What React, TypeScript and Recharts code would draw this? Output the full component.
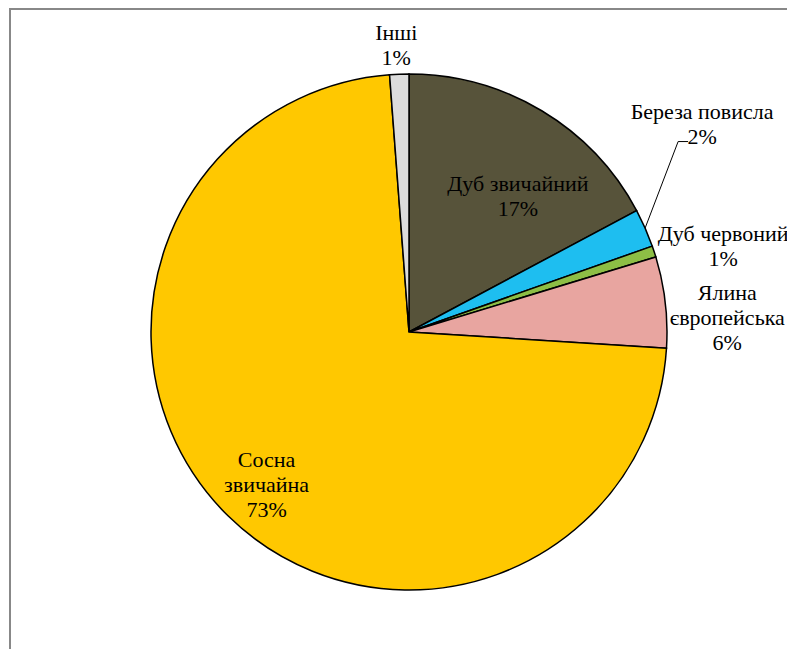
import React from "react";
import { PieChart, Pie, Cell } from "recharts";

const names = ["Дуб звичайний", "Береза повисла", "Дуб червоний", "Ялина європейська", "Сосна звичайна", "Інші"];
const values = [17.2, 2.4, 0.7, 5.7, 72.8, 1.2];
const percentLabels = ["17%", "2%", "1%", "6%", "73%", "1%"];
const labelLines: string[][] = [
  ["Дуб звичайний"],
  ["Береза повисла"],
  ["Дуб червоний"],
  ["Ялина", "європейська"],
  ["Сосна", "звичайна"],
  ["Інші"],
];
const colors = ["#57533A", "#1EBEF0", "#8DBE45", "#E8A5A0", "#FFC800", "#DCDCDC"];

// label layout: radius factor along midAngle plus pixel offsets
const labelLayout = [
  { f: 0.67, dx: 20, dy: 12 },
  { f: 1.0, dx: 57, dy: -104 },
  { f: 1.0, dx: 69, dy: -6 },
  { f: 1.0, dx: 62, dy: 15 },
  { f: 0.78, dx: -1, dy: 9 },
  { f: 1.0, dx: -3, dy: -29 },
];

const data = names.map((n, i) => ({ name: n, value: values[i] }));

const RAD = Math.PI / 180;
const FONT = 22;
const LH = 25;
const SERIF = "Liberation Serif";

const renderLabel = (props: any) => {
  const { cx, cy, midAngle, outerRadius, index } = props;
  const lay = labelLayout[index];
  const r = outerRadius * lay.f;
  const x = cx + r * Math.cos(-midAngle * RAD) + lay.dx;
  const y = cy + r * Math.sin(-midAngle * RAD) + lay.dy;
  const lines = [...labelLines[index], percentLabels[index]];
  const top = y - ((lines.length - 1) * LH) / 2;
  const els: any[] = [];
  if (index === 1) {
    const ex = cx + outerRadius * Math.cos(-midAngle * RAD);
    const ey = cy + outerRadius * Math.sin(-midAngle * RAD);
    const jy = top + LH + 5;
    els.push(
      <polyline
        key="ll"
        points={`${ex},${ey} ${x - 24},${jy} ${x - 14},${jy}`}
        fill="none"
        stroke="#000"
        strokeWidth={1}
      />
    );
  }
  lines.forEach((t, k) => {
    els.push(
      <text
        key={k}
        x={x}
        y={top + k * LH}
        textAnchor="middle"
        dominantBaseline="central"
        fontFamily={SERIF}
        fontSize={FONT}
        fill="#000"
      >
        {t}
      </text>
    );
  });
  return <g key={`lbl-${index}`}>{els}</g>;
};

export default function App() {
  return (
    <div style={{ position: "relative", width: 787, height: 641, overflow: "hidden", fontFamily: SERIF }}>
      <div
        style={{
          position: "absolute",
          left: 1,
          top: 0,
          width: 800,
          height: 700,
          borderLeft: "2px solid #888",
          borderTop: "2px solid #888",
          boxSizing: "border-box",
        }}
      />
      <div style={{ position: "absolute", left: 0, top: 0 }}>
        <PieChart width={787} height={641} margin={{ top: 0, right: 0, bottom: 0, left: 0 }}>
          <Pie
            data={data}
            dataKey="value"
            nameKey="name"
            cx={401}
            cy={324}
            outerRadius={258}
            startAngle={90}
            endAngle={-270}
            stroke="#000"
            strokeWidth={1.5}
            label={renderLabel}
            labelLine={false}
            isAnimationActive={false}
          >
            {data.map((d, i) => (
              <Cell key={d.name} fill={colors[i]} stroke="#000" strokeWidth={1.5} />
            ))}
          </Pie>
        </PieChart>
      </div>
    </div>
  );
}
